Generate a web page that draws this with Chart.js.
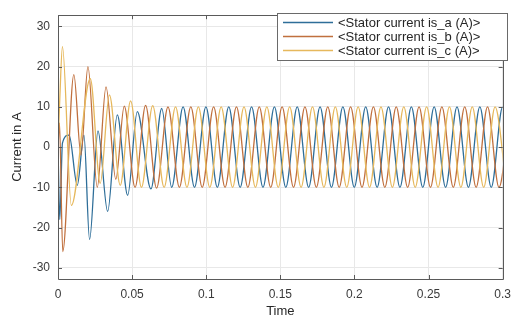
<!DOCTYPE html>
<html>
<head>
<meta charset="utf-8">
<script src="https://cdn.jsdelivr.net/npm/chart.js@4.4.1/dist/chart.umd.min.js"></script>
<style>
  html, body { margin: 0; padding: 0; background: #ffffff; }
  #wrap { width: 519px; height: 320px; }
</style>
</head>
<body>
<div id="wrap"><canvas id="c" width="519" height="320"></canvas></div>
<script>
// ---- Data (extrema, time in s, current in A) ----
const seriesLabels = ['<Stator current is_a (A)>', '<Stator current is_b (A)>', '<Stator current is_c (A)>'];

const tA = [0, 0.0012, 0.0030, 0.0075, 0.0130, 0.0175, 0.0213, 0.0270, 0.0335, 0.0400, 0.0470, 0.0535, 0.0627, 0.0700,
  0.0767, 0.0844, 0.0921, 0.0998, 0.1075, 0.1152, 0.1229, 0.1306, 0.1383, 0.1460, 0.1537, 0.1614, 0.1691, 0.1768,
  0.1845, 0.1922, 0.1999, 0.2076, 0.2153, 0.2230, 0.2307, 0.2384, 0.2461, 0.2538, 0.2615, 0.2692, 0.2769, 0.2846,
  0.2923, 0.3000, 0.3077];
const vA = [0, -18, 1, 3, -9.5, 3, -23, 4, -16, 8, -12, 8.8, -10.4, 9.6,
  -10, 10, -10, 10, -10, 10, -10, 10, -10, 10, -10, 10, -10, 10,
  -10, 10, -10, 10, -10, 10, -10, 10, -10, 10, -10, 10, -10, 10,
  -10, 10, -10];

const tB = [0, 0.0010, 0.0032, 0.0107, 0.0155, 0.0202, 0.0265, 0.0324, 0.0390, 0.0447, 0.0520, 0.0591, 0.0665,
  0.0742, 0.0819, 0.0896, 0.0973, 0.1050, 0.1127, 0.1204, 0.1281, 0.1358, 0.1435, 0.1512, 0.1589, 0.1666, 0.1743,
  0.1820, 0.1897, 0.1974, 0.2051, 0.2128, 0.2205, 0.2282, 0.2359, 0.2436, 0.2513, 0.2590, 0.2667, 0.2744, 0.2821,
  0.2898, 0.2975, 0.3052];
const vB = [0, 6, -26, 18, -2, 20, -10, 15, -8, 10.2, -10, 10.4, -10.2,
  10, -10, 10, -10, 10, -10, 10, -10, 10, -10, 10, -10, 10, -10,
  10, -10, 10, -10, 10, -10, 10, -10, 10, -10, 10, -10, 10, -10,
  10, -10, 10];

const tC = [0, 0.0012, 0.0030, 0.0090, 0.0218, 0.0285, 0.0347, 0.0420, 0.0490, 0.0563, 0.0639, 0.0716,
  0.0793, 0.0870, 0.0947, 0.1024, 0.1101, 0.1178, 0.1255, 0.1332, 0.1409, 0.1486, 0.1563, 0.1640, 0.1717,
  0.1794, 0.1871, 0.1948, 0.2025, 0.2102, 0.2179, 0.2256, 0.2333, 0.2410, 0.2487, 0.2564, 0.2641, 0.2718,
  0.2795, 0.2872, 0.2949, 0.3026];
const vC = [0, 12, 25, -14.5, 17, -9, 13, -9.5, 11.5, -10, 10.3, -10,
  10, -10, 10, -10, 10, -10, 10, -10, 10, -10, 10, -10, 10,
  -10, 10, -10, 10, -10, 10, -10, 10, -10, 10, -10, 10, -10,
  10, -10, 10, -10];

const xTicks = [0, 0.05, 0.1, 0.15, 0.2, 0.25, 0.3];
const xTickLabels = ['0', '0.05', '0.1', '0.15', '0.2', '0.25', '0.3'];
const yTicks = [-30, -20, -10, 0, 10, 20, 30];
const yTickLabels = ['-30', '-20', '-10', '0', '10', '20', '30'];

// ---- Styling ----
const colors = ['#2e6e99', '#c0703e', '#e6b85c'];
const FONT = "'Liberation Sans', Arial, Helvetica, sans-serif";

function pts(ts, vs) { return ts.map((t, i) => ({ x: t, y: vs[i] })); }

const boxPlugin = {
  id: 'boxPlugin',
  afterDatasetsDraw(chart) {
    const { ctx, chartArea: a, scales } = chart;
    ctx.save();
    ctx.strokeStyle = '#5a5a5a';
    ctx.lineWidth = 1;
    ctx.beginPath();
    ctx.rect(Math.round(a.left) + 0.5, Math.round(a.top) + 0.5, Math.round(a.right - a.left), Math.round(a.bottom - a.top));
    ctx.stroke();
    // inner tick marks
    ctx.beginPath();
    const L = 4;
    xTicks.forEach(v => {
      const x = Math.round(scales.x.getPixelForValue(v)) + 0.5;
      ctx.moveTo(x, a.bottom); ctx.lineTo(x, a.bottom - L);
      ctx.moveTo(x, a.top); ctx.lineTo(x, a.top + L);
    });
    yTicks.forEach(v => {
      const y = Math.round(scales.y.getPixelForValue(v)) + 0.5;
      ctx.moveTo(a.left, y); ctx.lineTo(a.left + L, y);
      ctx.moveTo(a.right, y); ctx.lineTo(a.right - L, y);
    });
    ctx.stroke();
    ctx.restore();
  },
  afterDraw(chart) {
    const { ctx } = chart;
    const bx = 277, by = 13, bw = 230, bh = 47;
    ctx.save();
    ctx.fillStyle = '#ffffff';
    ctx.fillRect(bx, by, bw, bh);
    ctx.strokeStyle = '#6a6a6a';
    ctx.lineWidth = 1;
    ctx.strokeRect(bx + 0.5, by + 0.5, bw, bh);
    ctx.font = '13px ' + FONT;
    ctx.textBaseline = 'middle';
    ctx.textAlign = 'left';
    chart.data.datasets.forEach((ds, i) => {
      const y = by + 9 + i * 14;
      ctx.strokeStyle = ds.borderColor;
      ctx.lineWidth = 1.3;
      ctx.beginPath();
      ctx.moveTo(283, y + 0.5); ctx.lineTo(333, y + 0.5);
      ctx.stroke();
      ctx.fillStyle = '#262626';
      ctx.fillText(ds.label, 338, y + 1);
    });
    ctx.restore();
  }
};

const chart = new Chart(document.getElementById('c'), {
  type: 'line',
  data: {
    datasets: [
      { label: seriesLabels[0], data: pts(tA, vA), borderColor: colors[0], order: 3 },
      { label: seriesLabels[1], data: pts(tB, vB), borderColor: colors[1], order: 2 },
      { label: seriesLabels[2], data: pts(tC, vC), borderColor: colors[2], order: 1 }
    ]
  },
  options: {
    responsive: false,
    animation: false,
    devicePixelRatio: 1,
    layout: { padding: { left: 0, right: 11, top: 7, bottom: 0 } },
    elements: {
      point: { radius: 0 },
      line: { borderWidth: 1.3, cubicInterpolationMode: 'monotone', fill: false }
    },
    plugins: { legend: { display: false }, tooltip: { enabled: false } },
    scales: {
      x: {
        type: 'linear',
        min: 0, max: 0.3,
        afterBuildTicks: s => { s.ticks = xTicks.map(v => ({ value: v })); },
        afterFit: s => { s.height = 41; },
        grid: { color: '#e8e8e8', drawTicks: false },
        border: { display: false },
        ticks: {
          padding: 8,
          color: '#3a3a3a',
          font: { family: FONT, size: 12 },
          maxRotation: 0,
          autoSkip: false,
          callback: (v, i) => xTickLabels[i]
        },
        title: { display: true, text: 'Time', color: '#262626', font: { family: FONT, size: 13 }, padding: { top: 0, bottom: 1 } }
      },
      y: {
        type: 'linear',
        min: -32.8, max: 32.8,
        afterBuildTicks: s => { s.ticks = yTicks.map(v => ({ value: v })); },
        afterFit: s => { s.width = 58; },
        grid: { color: '#e8e8e8', drawTicks: false },
        border: { display: false },
        ticks: {
          padding: 8,
          color: '#3a3a3a',
          font: { family: FONT, size: 12 },
          autoSkip: false,
          callback: (v, i) => yTickLabels[i]
        },
        title: { display: true, text: 'Current in A', color: '#262626', font: { family: FONT, size: 13 }, padding: { top: 10, bottom: 0 } }
      }
    }
  },
  plugins: [boxPlugin]
});
</script>
</body>
</html>
